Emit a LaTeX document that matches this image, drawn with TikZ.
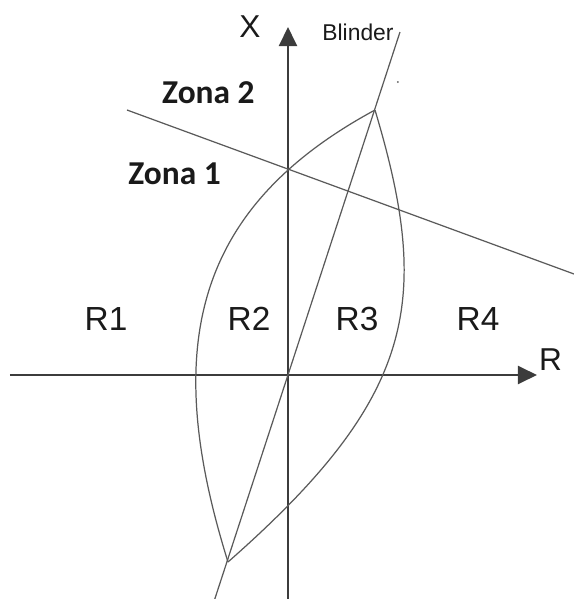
\documentclass[tikz,border=0pt]{standalone}
\usepackage{fontspec}
\setmainfont{Liberation Sans}
\newfontfamily\zonafont{Carlito}
\usetikzlibrary{arrows.meta}
\definecolor{diagink}{HTML}{1A1A1A}
\definecolor{diagline}{HTML}{5A5A5A}
\definecolor{diagaxis}{HTML}{3C3C3C}

\begin{document}
\begin{tikzpicture}[
  x=0.4cm,
  y=0.4cm,
  every node/.style={diagink, inner sep=0pt},
  axis/.style={diagaxis, line width=1.1pt, -{Triangle[length=0.38cm, width=0.36cm]}},
  curve/.style={diagline, line width=0.7pt},
  zone/.style={diagline, line width=0.7pt},
  regionlabel/.style={anchor=base, font=\fontsize{19}{22}\selectfont},
  axislabel/.style={anchor=base, font=\fontsize{18}{21}\selectfont},
  zonelabel/.style={anchor=base, font=\zonafont\bfseries\fontsize{19}{22}\selectfont}
]
\useasboundingbox (-14.4,-11.2) rectangle (14.3,18.75);

% =====================================================================
% axes R and X
% =====================================================================
\coordinate (O) at (0,0);
\coordinate (rwest) at (-13.9,0);
\coordinate (reast) at (12.45,0);
\coordinate (xsouth) at (0,-11.2);
\coordinate (xnorth) at (0,17.4);

\draw[axis] (rwest) -- (reast);
\draw[axis] (xsouth) -- (xnorth);
\node[axislabel] (rlabel) at (13.13,0.22) {R};
\node[axislabel] (xlabel) at (-1.9,16.9) {X};

% =====================================================================
% blinder and the lens
% =====================================================================
\coordinate (blinderlo) at (-3.66,-11.2);
\coordinate (blinderhi) at (5.6,17.15);
\coordinate (lenstop) at (4.35,13.25);
\coordinate (lensbot) at (-3.0,-9.35);

\draw[curve] (blinderlo) -- (blinderhi);
\draw[curve] (lensbot) .. controls (-6.28,1.15) and (-4.89,8.25) .. (lenstop);
\draw[curve] (lenstop) .. controls (7.22,3.67) and (6.38,-1.1) .. (lensbot);
\node[anchor=base, font=\fontsize{13}{15}\selectfont] (blinder) at (3.5,16.75)
  {Blinder};
\fill[diagline] (5.5,14.65) circle (0.05);

% =====================================================================
% zone limit
% =====================================================================
\coordinate (zonewest) at (-8.05,13.25);
\coordinate (zoneeast) at (14.3,5.05);

\draw[zone] (zonewest) -- (zoneeast);
\node[zonelabel] (zona2) at (-3.98,13.58) {Zona 2};
\node[zonelabel] (zona1) at (-5.67,9.53) {Zona 1};

% =====================================================================
% regions
% =====================================================================
\node[regionlabel] (r1) at (-9.1,2.25) {R1};
\node[regionlabel] (r2) at (-1.95,2.25) {R2};
\node[regionlabel] (r3) at (3.45,2.25) {R3};
\node[regionlabel] (r4) at (9.5,2.25) {R4};

\end{tikzpicture}
\end{document}
